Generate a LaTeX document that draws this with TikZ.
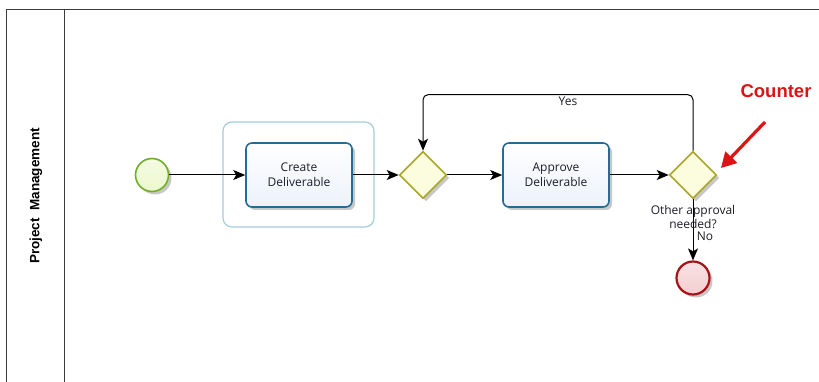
\documentclass[tikz,border=0pt]{standalone}
\usepackage{fontspec}
\setmainfont{Open Sans}
\newfontfamily\arialf{Liberation Sans}
\usetikzlibrary{shapes.geometric,arrows.meta,shadows}
\definecolor{startline}{RGB}{112,176,40}
\definecolor{startfill}{RGB}{236,248,206}
\definecolor{taskline}{RGB}{36,108,150}
\definecolor{taskfill}{RGB}{236,241,252}
\definecolor{gwline}{RGB}{168,166,40}
\definecolor{gwfill}{RGB}{252,252,222}
\definecolor{endline}{RGB}{166,20,24}
\definecolor{endfill}{RGB}{244,206,208}
\definecolor{groupline}{RGB}{166,204,222}
\definecolor{lanec}{RGB}{60,60,60}
\definecolor{countred}{RGB}{220,20,20}
\definecolor{txtc}{RGB}{30,30,40}
\tikzset{
  shad/.style={drop shadow={opacity=0.22,shadow xshift=3pt,shadow yshift=-3pt,fill=black}},
  startev/.style={circle,draw=startline,line width=1.6pt,minimum size=33pt,inner sep=0pt,
    top color=startfill!60!white,bottom color=startfill,shad},
  endev/.style={circle,draw=endline,line width=2.2pt,minimum size=33pt,inner sep=0pt,
    top color=endfill!60!white,bottom color=endfill,shad},
  taskbox/.style={rectangle,rounded corners=6pt,draw=taskline,line width=1.6pt,
    minimum width=106pt,minimum height=64pt,inner sep=0pt,align=center,
    top color=white,bottom color=taskfill,shad,font=\fontsize{12}{15}\selectfont,text=txtc},
  groupbox/.style={rectangle,rounded corners=9pt,draw=groupline,line width=1.2pt,
    minimum width=151pt,minimum height=105pt,inner sep=0pt},
  gateway/.style={diamond,draw=gwline,line width=1.6pt,minimum width=47pt,minimum height=47pt,
    inner sep=0pt,fill=gwfill,shad},
  flow/.style={draw=black,line width=1pt,-{Stealth[length=12pt,width=10pt,inset=3pt]}},
  lbl/.style={font=\fontsize{12}{14}\selectfont,text=txtc,inner sep=0pt,align=center},
  lane/.style={draw=lanec,line width=0.9pt},
  redarrow/.style={draw=countred,line width=3.2pt,-{Triangle[length=15pt,width=16pt]},
    drop shadow={opacity=0.25,shadow xshift=3pt,shadow yshift=-3pt}}
}
\begin{document}
\begin{tikzpicture}[x=1pt,y=-1pt]
\useasboundingbox (0,0) rectangle (819,382);
\fill[white] (0,0) rectangle (819,382);
% lane
\draw[lane] (6,382) -- (6,9) -- (819,9);
\draw[lane] (64,9) -- (64,382);
\node[rotate=90,font=\arialf\bfseries\fontsize{13.5}{16}\selectfont] (lanelabel) at (36,196) {Project\ \ Management};
% group
\node[groupbox] (grp) at (298.5,174.5) {};
% nodes
\node[startev] (start) at (152,175) {};
\node[taskbox] (t1) at (299,175) {Create\\Deliverable};
\node[gateway] (gw1) at (423,175) {};
\node[taskbox] (t2) at (556,175) {Approve\\Deliverable};
\node[gateway] (gw2) at (693,175) {};
\node[endev] (end) at (693,278) {};
% flows
\draw[flow] (start) -- (t1);
\draw[flow] (t1) -- (gw1);
\draw[flow] (gw1) -- (t2);
\draw[flow] (t2) -- (gw2);
\draw[flow] (gw2) -- (end);
\draw[flow,rounded corners=5pt] (gw2.north) -- ++(0,-56) -| (gw1.north);
% labels
\node[lbl] (yes) at (568,101) {Yes};
\node[lbl] (q) at (693,217) {Other approval\\needed?};
\node[lbl] (no) at (705,236) {No};
% counter
\node[font=\arialf\bfseries\fontsize{18.5}{20}\selectfont,text=countred,inner sep=0pt] (counter) at (776,91) {Counter};
\coordinate (ctail) at (765,122);
\coordinate (chead) at (721,168);
\draw[redarrow] (ctail) -- (chead);
\end{tikzpicture}
\end{document}
